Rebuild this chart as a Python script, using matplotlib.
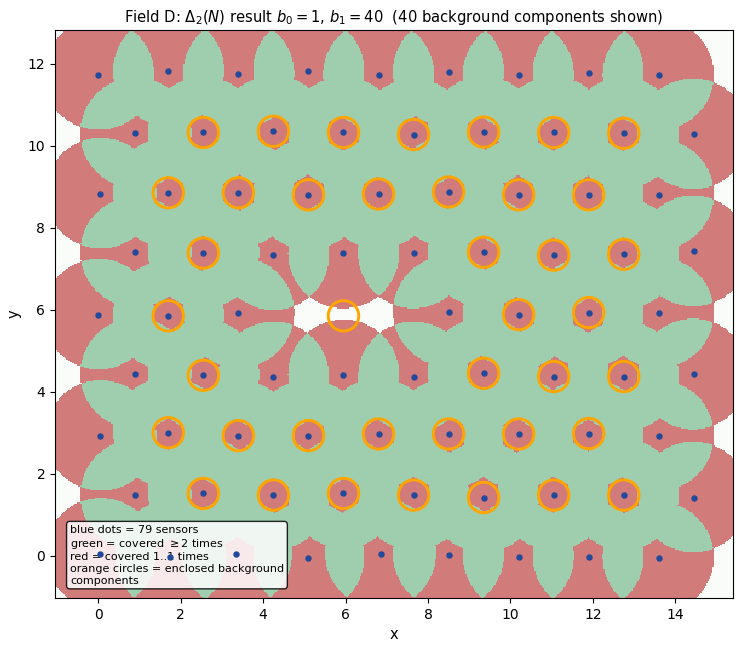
import numpy as np
import matplotlib
matplotlib.use('Agg')
import matplotlib.pyplot as plt
from matplotlib.colors import ListedColormap
from matplotlib.patches import Circle

# sensor positions, row by row (hex grid with jitter)
sensor_x = [
    0.05, 1.75, 3.35, 5.10, 6.85, 8.50, 10.20, 11.90, 13.60,
    0.90, 2.55, 4.25, 5.95, 7.65, 9.35, 11.05, 12.75, 14.45,
    0.05, 1.70, 3.40, 5.10, 6.80, 8.50, 10.20, 11.90, 13.60,
    0.90, 2.55, 4.25, 5.95, 7.65, 9.35, 11.05, 12.75, 14.45,
    0.00, 1.70, 3.40, 8.50, 10.20, 11.90, 13.60,
    0.90, 2.55, 4.25, 5.95, 7.65, 9.35, 11.05, 12.75, 14.45,
    0.05, 1.70, 3.40, 5.10, 6.80, 8.50, 10.20, 11.90, 13.60,
    0.90, 2.55, 4.25, 5.95, 7.65, 9.35, 11.05, 12.75, 14.45,
    0.00, 1.70, 3.40, 5.10, 6.80, 8.50, 10.20, 11.90, 13.60,
]
sensor_y = [
    0.05, -0.02, 0.05, -0.05, 0.05, 0.02, -0.02, -0.02, -0.05,
    1.47, 1.52, 1.48, 1.52, 1.48, 1.42, 1.48, 1.48, 1.42,
    2.92, 3.00, 2.93, 2.93, 2.97, 2.97, 2.97, 2.98, 2.92,
    4.43, 4.40, 4.35, 4.40, 4.35, 4.45, 4.37, 4.37, 4.42,
    5.88, 5.85, 5.92, 5.95, 5.88, 5.93, 5.92,
    7.40, 7.38, 7.33, 7.37, 7.37, 7.40, 7.33, 7.35, 7.42,
    8.83, 8.85, 8.85, 8.80, 8.82, 8.87, 8.80, 8.80, 8.80,
    10.30, 10.32, 10.35, 10.32, 10.27, 10.33, 10.32, 10.30, 10.28,
    11.72, 11.82, 11.75, 11.82, 11.72, 11.80, 11.72, 11.78, 11.72,
]
sensing_radius = 1.35

# centres of the enclosed background components (orange circles)
hole_x = [
    2.55, 4.25, 5.95, 7.65, 9.35, 11.05, 12.75,
    1.70, 3.40, 5.10, 6.80, 8.50, 10.20, 11.90,
    2.55, 9.35, 11.05, 12.75,
    1.70, 5.95, 10.20, 11.90,
    2.55, 9.35, 11.05, 12.75,
    1.70, 3.40, 5.10, 6.80, 8.50, 10.20, 11.90,
    2.55, 4.25, 5.95, 7.65, 9.35, 11.05, 12.75,
]
hole_y = [
    1.52, 1.48, 1.52, 1.48, 1.42, 1.48, 1.48,
    3.00, 2.93, 2.93, 2.97, 2.97, 2.97, 2.98,
    4.40, 4.45, 4.37, 4.37,
    5.85, 5.85, 5.88, 5.93,
    7.38, 7.40, 7.33, 7.35,
    8.85, 8.85, 8.80, 8.82, 8.87, 8.80, 8.80,
    10.32, 10.35, 10.32, 10.27, 10.33, 10.32, 10.30,
]
hole_radius = 0.37

xlim = (-1.05, 15.4)
ylim = (-1.03, 12.82)


def coverage_grid(xs, ys, r, nx=560, ny=470):
    gx = np.linspace(xlim[0], xlim[1], nx)
    gy = np.linspace(ylim[0], ylim[1], ny)
    X, Y = np.meshgrid(gx, gy)
    count = np.zeros_like(X, dtype=int)
    for sx, sy in zip(xs, ys):
        count += ((X - sx) ** 2 + (Y - sy) ** 2 <= r ** 2)
    return np.clip(count, 0, 2)


def main():
    fig = plt.figure(figsize=(7.43, 6.51), dpi=100)
    ax = fig.add_axes([0.074, 0.0814, 0.9125, 0.8726])

    cov = coverage_grid(sensor_x, sensor_y, sensing_radius)
    cmap = ListedColormap(['#f9fcf9', '#d17b7b', '#9ecead'])
    ax.imshow(cov, cmap=cmap, vmin=-0.5, vmax=2.5, origin='lower',
              extent=[xlim[0], xlim[1], ylim[0], ylim[1]],
              interpolation='nearest', aspect='auto', zorder=0)

    for hx, hy in zip(hole_x, hole_y):
        ax.add_patch(Circle((hx, hy), hole_radius, fill=False,
                            edgecolor='orange', linewidth=2.1, zorder=3))

    ax.scatter(sensor_x, sensor_y, s=13, color='#22499a', zorder=5)

    ax.text(0.022, 0.022,
            'blue dots = 79 sensors\n'
            'green = covered $\\geq 2$ times\n'
            'red = covered 1..1 times\n'
            'orange circles = enclosed background\n'
            'components',
            transform=ax.transAxes, fontsize=8, va='bottom', ha='left',
            zorder=4,
            bbox=dict(boxstyle='round,pad=0.3', facecolor='white',
                      edgecolor='black', alpha=0.85))

    ax.set_xlim(*xlim)
    ax.set_ylim(*ylim)
    ax.set_xlabel('x', fontsize=10.5)
    ax.set_ylabel('y', fontsize=10.5)
    ax.tick_params(labelsize=10)
    ax.set_title('Field D: $\\Delta_2(N)$ result $b_0 = 1$, $b_1 = 40$  '
                 '(40 background components shown)', fontsize=10.6)

    fig.savefig('out.png', dpi=100)


if __name__ == '__main__':
    main()
